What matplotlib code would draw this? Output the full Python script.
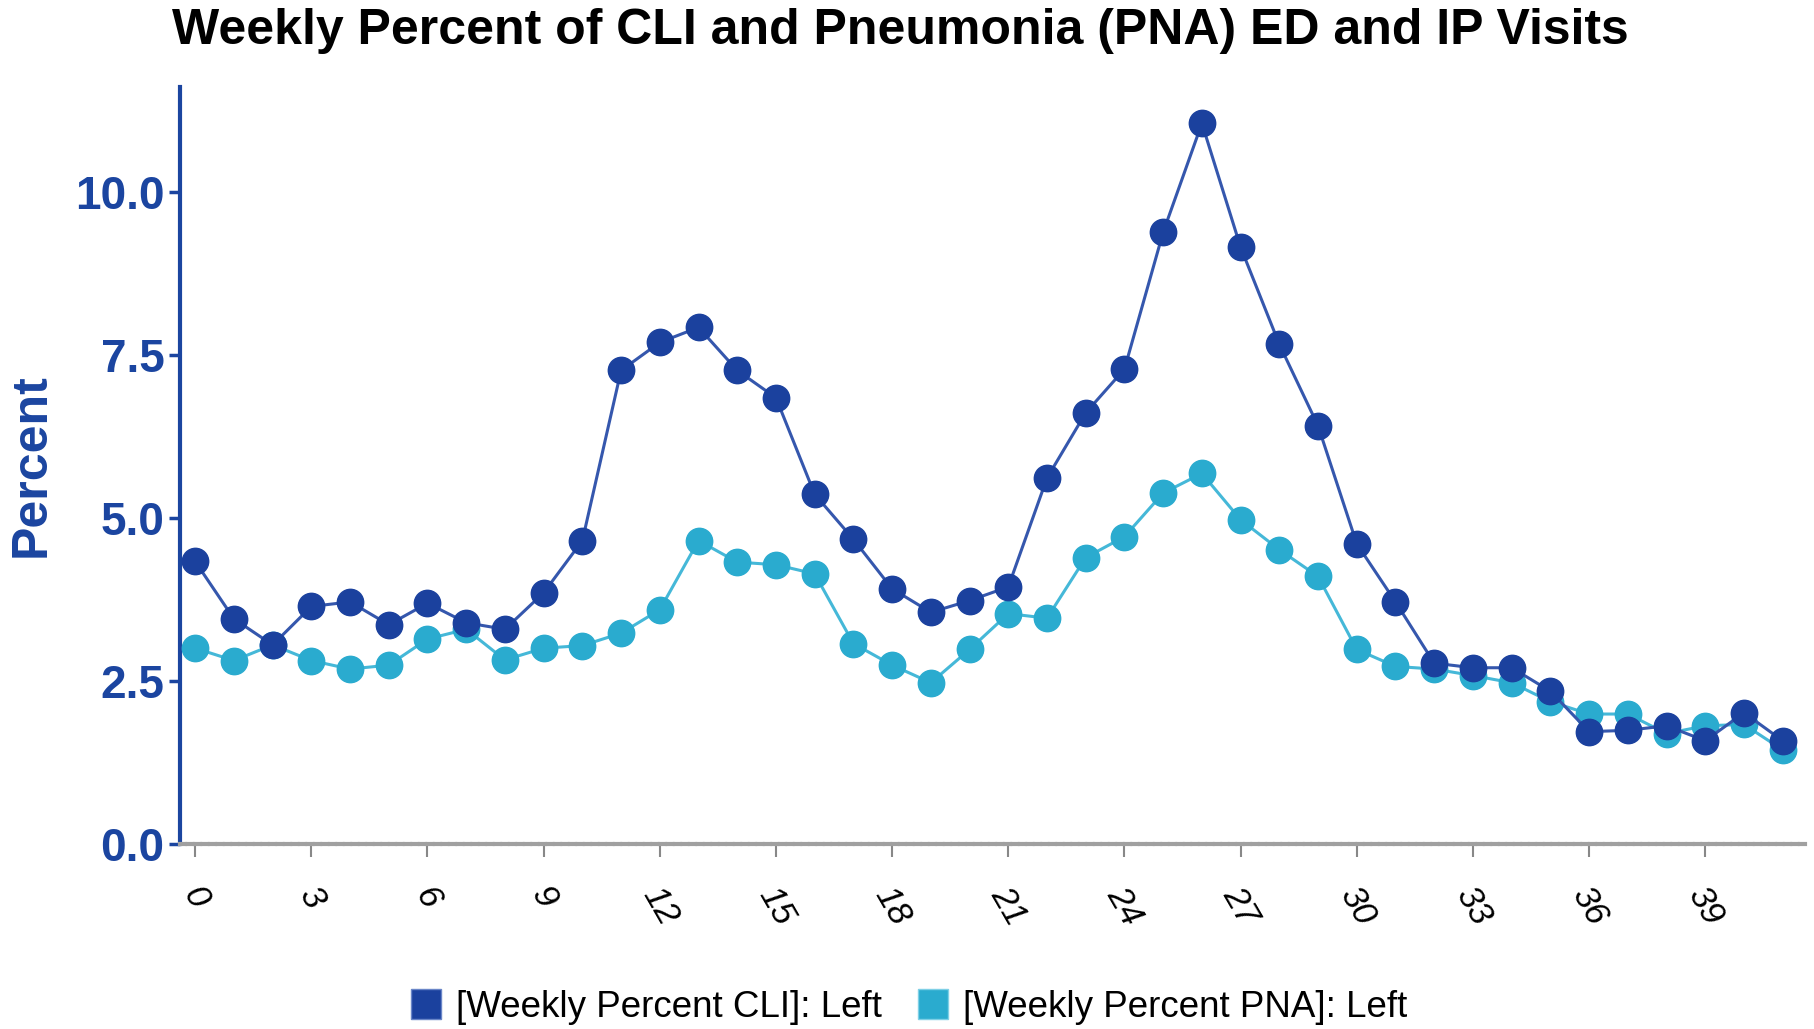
import numpy as np
import matplotlib
matplotlib.use("Agg")
import matplotlib.pyplot as plt
from matplotlib.lines import Line2D

# weekly values
weeks = list(range(42))
cli_pct = [4.33, 3.45, 3.05, 3.64, 3.71, 3.36, 3.69, 3.39, 3.29, 3.85,
           4.65, 7.26, 7.69, 7.92, 7.26, 6.84, 5.36, 4.67, 3.91, 3.55,
           3.73, 3.94, 5.61, 6.61, 7.28, 9.38, 11.05, 9.15, 7.66, 6.41,
           4.60, 3.71, 2.77, 2.70, 2.70, 2.34, 1.72, 1.74, 1.81, 1.58,
           2.01, 1.58]
pna_pct = [3.00, 2.81, 3.05, 2.81, 2.68, 2.74, 3.14, 3.29, 2.82, 3.00,
           3.04, 3.23, 3.59, 4.65, 4.32, 4.28, 4.14, 3.07, 2.74, 2.47,
           2.98, 3.53, 3.46, 4.39, 4.71, 5.38, 5.68, 4.97, 4.51, 4.10,
           2.98, 2.72, 2.68, 2.58, 2.47, 2.18, 1.99, 1.99, 1.69, 1.81,
           1.83, 1.44]
xticks = list(range(0, 42, 3))
yticks = [0.0, 2.5, 5.0, 7.5, 10.0]
legend_labels = ["[Weekly Percent CLI]: Left", "[Weekly Percent PNA]: Left"]

dark = "#1b419e"
dark_line = "#3557ad"
light = "#2aabcf"
light_line = "#45b8d8"
axis_blue = "#1b45a0"
narrow = ["Liberation Sans Narrow", "Liberation Sans", "DejaVu Sans"]

fig = plt.figure(figsize=(18.15, 10.29), dpi=100)
ax = fig.add_axes([0.099, 0.180, 0.896, 0.735])

ax.plot(weeks, pna_pct, color=light_line, lw=2.2, marker="o", ms=19,
        mfc=light, mec=light, zorder=3)
ax.plot(weeks, cli_pct, color=dark_line, lw=2.2, marker="o", ms=19,
        mfc=dark, mec=dark, zorder=4)

ax.set_xlim(-0.4, 41.6)
ax.set_ylim(0, 11.6)
ax.set_xticks(xticks)
ax.set_yticks(yticks)
ax.set_yticklabels(["%.1f" % v for v in yticks])

for s in ["top", "right"]:
    ax.spines[s].set_visible(False)
ax.spines["left"].set_color(axis_blue)
ax.spines["left"].set_linewidth(3)
ax.spines["bottom"].set_color("#a0a0a0")
ax.spines["bottom"].set_linewidth(3)
ax.spines["bottom"].set_linestyle((0, (1.2, 0.6)))

ax.tick_params(axis="y", colors=axis_blue, length=8, width=2.5, pad=3,
               labelsize=33)
for lab in ax.get_yticklabels():
    lab.set_fontweight("bold")
    lab.set_family("Liberation Sans")
ax.tick_params(axis="x", colors="#888888", length=9, width=1.5, pad=18,
               labelsize=25, labelcolor="black")
for lab in ax.get_xticklabels():
    lab.set_rotation(-60)
    lab.set_ha("center")
    lab.set_va("top")
    lab.set_style("italic")
    lab.set_family(narrow)

ax.set_ylabel("Percent", color=axis_blue, fontsize=36, fontweight="bold",
              family="Liberation Sans", va="center")
ax.yaxis.set_label_coords(-0.091, 0.5)

fig.suptitle("Weekly Percent of CLI and Pneumonia (PNA) ED and IP Visits",
             x=0.496, y=0.992, fontsize=36, fontweight="bold", family=narrow)

handles = [Line2D([], [], ls="none", marker="s", ms=21, mfc=dark, mec="#6a86c8"),
           Line2D([], [], ls="none", marker="s", ms=21, mfc=light, mec="#7fd0e6")]
fig.legend(handles, legend_labels, loc="lower center", ncol=2,
           bbox_to_anchor=(0.5, -0.028), frameon=False, handletextpad=0.3,
           columnspacing=0.9, handlelength=1.0,
           prop={"family": narrow, "size": 26.5})

fig.savefig("out.png", dpi=100)
